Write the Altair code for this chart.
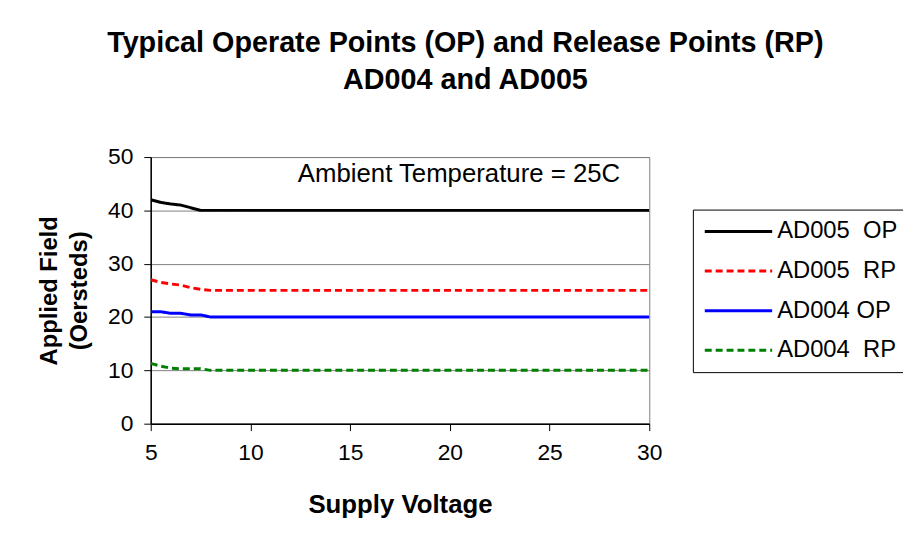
import altair as alt
import pandas as pd

voltage = [5, 5.5, 6, 6.5, 7, 7.5, 8, 10, 15, 20, 25, 30]
ad005_op = [42, 41.5, 41.2, 41, 40.5, 40, 40, 40, 40, 40, 40, 40]
ad005_rp = [27, 26.5, 26.2, 26, 25.5, 25.2, 25, 25, 25, 25, 25, 25]
ad004_op = [21, 21, 20.7, 20.7, 20.4, 20.4, 20, 20, 20, 20, 20, 20]
ad004_rp = [11.3, 10.8, 10.4, 10.3, 10.3, 10.3, 10, 10, 10, 10, 10, 10]

series_names = ["AD005\u00a0 OP", "AD005\u00a0 RP", "AD004 OP", "AD004\u00a0 RP"]
series_values = [ad005_op, ad005_rp, ad004_op, ad004_rp]
series_colors = ["#000000", "#FF0000", "#0000FF", "#008000"]
series_dash = [[1, 0], [7, 4], [1, 0], [7, 4]]

rows = []
for name, vals in zip(series_names, series_values):
    for v, f in zip(voltage, vals):
        rows.append({"series": name, "voltage": v, "field": f})
df = pd.DataFrame(rows)

FONT = "Liberation Sans"

lines = alt.Chart(df).mark_line(strokeWidth=3, clip=True).encode(
    x=alt.X("voltage:Q", title="Supply Voltage",
            scale=alt.Scale(domain=[5, 30], nice=False, zero=False),
            axis=alt.Axis(values=[5, 10, 15, 20, 25, 30], grid=False, tickSize=7,
                          labelPadding=11, titlePadding=28, labelFlush=False)),
    y=alt.Y("field:Q", title=["Applied Field", "(Oersteds)"],
            scale=alt.Scale(domain=[0, 50], nice=False),
            axis=alt.Axis(values=[0, 10, 20, 30, 40, 50], grid=True, tickSize=7,
                          labelPadding=11, titlePadding=16, titleLineHeight=30,
                          labelFlush=False)),
    color=alt.Color("series:N", scale=alt.Scale(domain=series_names, range=series_colors),
                    legend=alt.Legend(title=None)),
    strokeDash=alt.StrokeDash("series:N", scale=alt.Scale(domain=series_names, range=series_dash),
                              legend=alt.Legend(title=None)),
)

note = alt.Chart(pd.DataFrame({"t": ["Ambient Temperature = 25C"]})).mark_text(
    font=FONT, fontSize=26, color="black", align="center", baseline="middle"
).encode(x=alt.value(311), y=alt.value(17), text="t:N")

chart = alt.layer(lines, note).properties(
    width=503, height=269,
    autosize=alt.AutoSizeParams(type="none"),
    padding={"left": 144, "top": 148, "right": 256, "bottom": 119},
    title=alt.Title(["Typical Operate Points (OP) and Release Points (RP)", "AD004 and AD005"],
                    font=FONT, fontSize=29, fontWeight="bold", color="black",
                    anchor="middle", dx=66, offset=52, lineHeight=37),
).configure_view(stroke="#808080", strokeWidth=1).configure_axis(
    labelFont=FONT, labelFontSize=23, labelColor="black",
    titleFont=FONT, titleFontSize=24, titleFontWeight="bold", titleColor="black",
    domainColor="black", tickColor="black", gridColor="#808080", gridWidth=1,
    domainWidth=1.5, tickWidth=1,
).configure_axisX(titleFontSize=26).configure_legend(
    orient="none", legendX=547, legendY=53, padding=10,
    strokeColor="black", strokeWidth=1, fillColor="white",
    labelFont=FONT, labelFontSize=24, labelColor="black", labelOffset=51,
    symbolType="M-1,0H5.8", symbolSize=400, symbolStrokeWidth=3, rowPadding=16,
    labelLimit=300,
)

chart.save("out.html", embed_options={"renderer": "svg", "actions": False})
